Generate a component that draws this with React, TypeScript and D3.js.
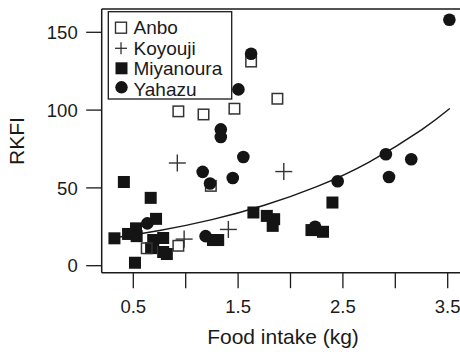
import React from "react";
import * as d3 from "d3";

const anboX = [0.93, 1.17, 1.465, 1.875, 1.624, 1.24, 0.628, 0.93];
const anboY = [99.2, 97.2, 100.9, 107.3, 131.2, 51.3, 11.2, 12.8];

const koyoujiX = [0.92, 0.985, 1.407, 1.936];
const koyoujiY = [66, 17.1, 23.3, 60.5];

const miyanouraX = [0.41, 0.666, 0.717, 0.526, 0.45, 0.532, 0.32, 0.516, 0.69, 0.785, 0.67, 0.785, 0.82, 1.646, 1.774, 1.844, 1.83, 1.26, 1.31, 2.2, 2.31, 2.4];
const miyanouraY = [53.8, 43.6, 30.1, 24, 20.4, 19, 17.6, 1.9, 16.5, 17.8, 11.3, 8.8, 7.5, 34.2, 32, 29.9, 25.6, 16.5, 16.5, 22.9, 21.8, 40.6];

const yahazuX = [3.516, 1.624, 1.503, 1.335, 1.335, 1.55, 1.162, 1.232, 1.449, 0.634, 1.19, 2.45, 2.91, 2.94, 3.152, 2.235];
const yahazuY = [158.1, 136.2, 113.3, 87.6, 82.7, 69.9, 60.3, 52.8, 56.4, 27.2, 19, 54.3, 71.6, 57, 68.4, 25];

const fitX = [0.32, 0.75, 1.25, 1.75, 2.25, 2.75, 3.25, 3.52];
const fitY = [17.9, 22.6, 29.6, 38.8, 50.8, 66.6, 87.3, 101.0];

const xTicks = [0.5, 1, 1.5, 2, 2.5, 3, 3.5];
const xTickLabels = ["0.5", "", "1.5", "", "2.5", "", "3.5"];
const yTicks = [0, 50, 100, 150];

const legendLabels = ["Anbo", "Koyouji", "Miyanoura", "Yahazu"];

const FONT = "Liberation Sans, Arial, Helvetica, sans-serif";
const INK = "#1a1a1a";

export default function App() {
  const W = 460, H = 352;
  const left = 101.7, right = 466, top = 9, bottom = 272.7;
  const x = d3.scaleLinear().domain([0.5, 3.5]).range([133.3, 447.7]);
  const y = d3.scaleLinear().domain([0, 150]).range([265.7, 32.3]);

  const line = d3
    .line<number>()
    .x((_, i) => x(fitX[i]))
    .y((d) => y(d))
    .curve(d3.curveNatural);

  const sq = 12;
  const r = 6.3;
  const pl = 8.5;

  const legendY = [27.7, 48.3, 68.3, 87.3];
  const legendTextY = [34, 54.5, 75, 95.5];

  return (
    <svg
      width={W}
      height={H}
      style={{ position: "absolute", left: 0, top: 0, background: "#fff" }}
      fontFamily={FONT}
    >
      <rect x={0} y={0} width={W} height={H} fill="#fff" />
      {/* frame */}
      <line x1={left} x2={right} y1={top} y2={top} stroke={INK} strokeWidth={1.5} />
      <line x1={left} x2={left} y1={top} y2={bottom} stroke={INK} strokeWidth={1.5} />
      <line x1={left} x2={right} y1={bottom} y2={bottom} stroke={INK} strokeWidth={1.5} />

      {/* x ticks */}
      {xTicks.map((t, i) => (
        <g key={"xt" + i}>
          <line x1={x(t)} x2={x(t)} y1={bottom} y2={bottom + 15.5} stroke={INK} strokeWidth={1.3} />
          <text x={x(t)} y={313.3} textAnchor="middle" fontSize={18.5} fill={INK}>
            {xTickLabels[i]}
          </text>
        </g>
      ))}
      {/* y ticks */}
      {yTicks.map((t, i) => (
        <g key={"yt" + i}>
          <line x1={left - 15.5} x2={left} y1={y(t)} y2={y(t)} stroke={INK} strokeWidth={1.3} />
          <text x={77.7} y={y(t) + 6.6} textAnchor="end" fontSize={18.5} fill={INK}>
            {t}
          </text>
        </g>
      ))}

      <text x={283} y={344} textAnchor="middle" fontSize={21} fill={INK}>
        Food intake (kg)
      </text>
      <text
        transform={`translate(24,141) rotate(-90)`}
        textAnchor="middle"
        fontSize={21}
        fill={INK}
      >
        RKFI
      </text>

      {/* fitted curve */}
      <path d={line(fitY) || ""} fill="none" stroke={INK} strokeWidth={1.5} />

      {/* Miyanoura */}
      {miyanouraX.map((v, i) => (
        <rect key={"m" + i} x={x(v) - sq / 2} y={y(miyanouraY[i]) - sq / 2} width={sq} height={sq} fill="#141414" />
      ))}
      {/* Anbo */}
      {anboX.map((v, i) => (
        <rect
          key={"a" + i}
          x={x(v) - (sq - 1.5) / 2}
          y={y(anboY[i]) - (sq - 1.5) / 2}
          width={sq - 1.5}
          height={sq - 1.5}
          fill="none"
          stroke="#333"
          strokeWidth={1.5}
        />
      ))}
      {/* Koyouji */}
      {koyoujiX.map((v, i) => (
        <g key={"k" + i} stroke="#333" strokeWidth={1.4}>
          <line x1={x(v) - pl} x2={x(v) + pl} y1={y(koyoujiY[i])} y2={y(koyoujiY[i])} />
          <line x1={x(v)} x2={x(v)} y1={y(koyoujiY[i]) - pl} y2={y(koyoujiY[i]) + pl} />
        </g>
      ))}
      {/* Yahazu */}
      {yahazuX.map((v, i) => (
        <circle key={"y" + i} cx={x(v)} cy={y(yahazuY[i])} r={r} fill="#141414" />
      ))}

      {/* legend */}
      <rect x={108.3} y={11.7} width={123.4} height={87.3} fill="#fff" stroke={INK} strokeWidth={1.3} />
      <rect x={121 - 5.5} y={legendY[0] - 5.5} width={11} height={11} fill="none" stroke="#333" strokeWidth={1.4} />
      <g stroke="#333" strokeWidth={1.3}>
        <line x1={121 - 6} x2={121 + 6} y1={legendY[1]} y2={legendY[1]} />
        <line x1={121} x2={121} y1={legendY[1] - 6} y2={legendY[1] + 6} />
      </g>
      <rect x={121.5 - 6} y={legendY[2] - 6} width={12} height={12} fill="#141414" />
      <circle cx={121.5} cy={legendY[3]} r={6.2} fill="#141414" />
      {legendLabels.map((l, i) => (
        <text key={"l" + i} x={133.5} y={legendTextY[i]} fontSize={19} fill={INK}>
          {l}
        </text>
      ))}
    </svg>
  );
}
